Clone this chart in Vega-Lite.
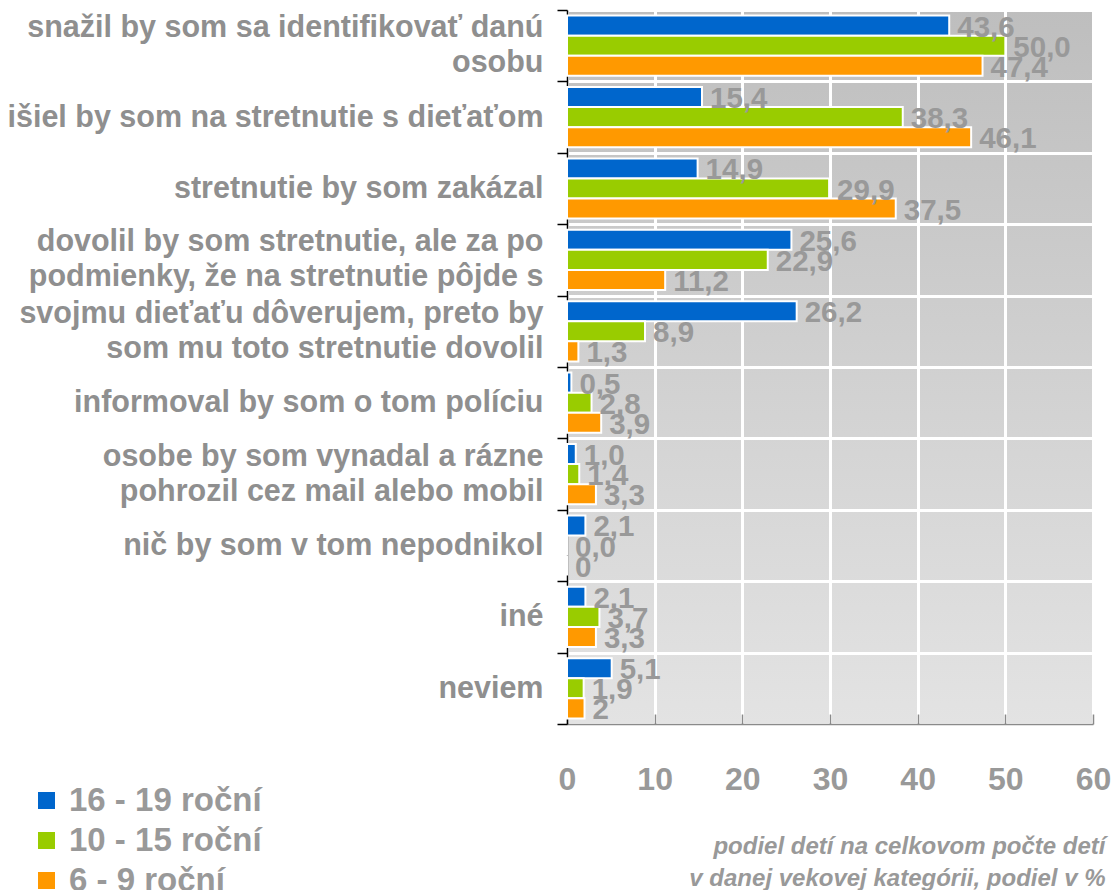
{
  "$schema": "https://vega.github.io/schema/vega-lite/v6.json",
  "autosize": "none",
  "width": 526,
  "height": 714,
  "padding": {"left": 567, "top": 10, "right": 22, "bottom": 166},
  "background": "white",
  "view": {
    "fill": {"gradient": "linear", "x1": 0, "y1": 0, "x2": 0, "y2": 1,
      "stops": [{"offset": 0, "color": "#bebebe"}, {"offset": 1, "color": "#e3e3e3"}]},
    "stroke": null
  },
  "config": {"font": "Liberation Sans"},
  "data": {"values": [
    {"cat": "snažil by som sa identifikovať danú|osobu", "grp": "16 - 19 roční", "value": 43.6, "label": "43,6"},
    {"cat": "snažil by som sa identifikovať danú|osobu", "grp": "10 - 15 roční", "value": 50.0, "label": "50,0"},
    {"cat": "snažil by som sa identifikovať danú|osobu", "grp": "6 - 9 roční", "value": 47.4, "label": "47,4"},
    {"cat": "išiel by som na stretnutie s dieťaťom", "grp": "16 - 19 roční", "value": 15.4, "label": "15,4"},
    {"cat": "išiel by som na stretnutie s dieťaťom", "grp": "10 - 15 roční", "value": 38.3, "label": "38,3"},
    {"cat": "išiel by som na stretnutie s dieťaťom", "grp": "6 - 9 roční", "value": 46.1, "label": "46,1"},
    {"cat": "stretnutie by som zakázal", "grp": "16 - 19 roční", "value": 14.9, "label": "14,9"},
    {"cat": "stretnutie by som zakázal", "grp": "10 - 15 roční", "value": 29.9, "label": "29,9"},
    {"cat": "stretnutie by som zakázal", "grp": "6 - 9 roční", "value": 37.5, "label": "37,5"},
    {"cat": "dovolil by som stretnutie, ale za po|podmienky, že na stretnutie pôjde s", "grp": "16 - 19 roční", "value": 25.6, "label": "25,6"},
    {"cat": "dovolil by som stretnutie, ale za po|podmienky, že na stretnutie pôjde s", "grp": "10 - 15 roční", "value": 22.9, "label": "22,9"},
    {"cat": "dovolil by som stretnutie, ale za po|podmienky, že na stretnutie pôjde s", "grp": "6 - 9 roční", "value": 11.2, "label": "11,2"},
    {"cat": "svojmu dieťaťu dôverujem, preto by|som mu toto stretnutie dovolil", "grp": "16 - 19 roční", "value": 26.2, "label": "26,2"},
    {"cat": "svojmu dieťaťu dôverujem, preto by|som mu toto stretnutie dovolil", "grp": "10 - 15 roční", "value": 8.9, "label": "8,9"},
    {"cat": "svojmu dieťaťu dôverujem, preto by|som mu toto stretnutie dovolil", "grp": "6 - 9 roční", "value": 1.3, "label": "1,3"},
    {"cat": "informoval by som o tom políciu", "grp": "16 - 19 roční", "value": 0.5, "label": "0,5"},
    {"cat": "informoval by som o tom políciu", "grp": "10 - 15 roční", "value": 2.8, "label": "2,8"},
    {"cat": "informoval by som o tom políciu", "grp": "6 - 9 roční", "value": 3.9, "label": "3,9"},
    {"cat": "osobe by som vynadal a rázne|pohrozil cez mail alebo mobil", "grp": "16 - 19 roční", "value": 1.0, "label": "1,0"},
    {"cat": "osobe by som vynadal a rázne|pohrozil cez mail alebo mobil", "grp": "10 - 15 roční", "value": 1.4, "label": "1,4"},
    {"cat": "osobe by som vynadal a rázne|pohrozil cez mail alebo mobil", "grp": "6 - 9 roční", "value": 3.3, "label": "3,3"},
    {"cat": "nič by som v tom nepodnikol", "grp": "16 - 19 roční", "value": 2.1, "label": "2,1"},
    {"cat": "nič by som v tom nepodnikol", "grp": "10 - 15 roční", "value": 0.0, "label": "0,0"},
    {"cat": "nič by som v tom nepodnikol", "grp": "6 - 9 roční", "value": 0, "label": "0"},
    {"cat": "iné", "grp": "16 - 19 roční", "value": 2.1, "label": "2,1"},
    {"cat": "iné", "grp": "10 - 15 roční", "value": 3.7, "label": "3,7"},
    {"cat": "iné", "grp": "6 - 9 roční", "value": 3.3, "label": "3,3"},
    {"cat": "neviem", "grp": "16 - 19 roční", "value": 5.1, "label": "5,1"},
    {"cat": "neviem", "grp": "10 - 15 roční", "value": 1.9, "label": "1,9"},
    {"cat": "neviem", "grp": "6 - 9 roční", "value": 2, "label": "2"}
  ]},
  "resolve": {"axis": {"y": "independent"}},
  "encoding": {
    "yOffset": {
      "field": "grp", "type": "nominal",
      "sort": ["16 - 19 roční", "10 - 15 roční", "6 - 9 roční"],
      "scale": {"paddingOuter": 0.28, "paddingInner": 0}
    },
    "x": {
      "field": "value", "type": "quantitative",
      "scale": {"domain": [0, 60], "nice": false},
      "axis": {
        "values": [0, 10, 20, 30, 40, 50, 60],
        "grid": true, "gridColor": "#ffffff", "gridWidth": 3,
        "domainColor": "#8a8a8a", "domainWidth": 1.5,
        "tickColor": "#8a8a8a", "tickSize": -10, "tickWidth": 1.5,
        "labelFontSize": 32, "labelFontWeight": "bold", "labelColor": "#999999",
        "labelBaseline": "alphabetic", "labelPadding": 75, "labelFlush": false,
        "title": ["podiel detí na celkovom počte detí", "v danej vekovej kategórii, podiel v %"],
        "titleFontSize": 24, "titleFontStyle": "italic", "titleFontWeight": "bold",
        "titleColor": "#999999", "titleAnchor": "end", "titleAlign": "right",
        "titleBaseline": "alphabetic", "titleLineHeight": 32,
        "titleX": 538, "titleY": 129
      }
    }
  },
  "layer": [
    {
      "mark": {"type": "bar", "stroke": "#ffffff", "strokeWidth": 2},
      "encoding": {
        "y": {
          "field": "cat", "type": "nominal", "sort": null,
          "scale": {"paddingInner": 0, "paddingOuter": 0},
          "axis": {
            "orient": "left", "title": null,
            "labelExpr": "indexof(datum.label, '|') >= 0 ? '' : datum.label",
            "labelFontSize": 30.5, "labelFontWeight": "bold", "labelColor": "#8f8f8f",
            "labelLimit": 700, "labelPadding": 14,
            "tickBand": "extent", "tickSize": 10, "tickColor": "#000000", "tickWidth": 1.5,
            "domainColor": "#000000", "domainWidth": 1.5,
            "grid": true, "gridColor": "#ffffff", "gridWidth": 3
          }
        },
        "color": {
          "field": "grp", "type": "nominal",
          "scale": {"domain": ["16 - 19 roční", "10 - 15 roční", "6 - 9 roční"], "range": ["#0066cc", "#99cc00", "#ff9900"]},
          "legend": {
            "orient": "none", "legendX": -537, "legendY": 774, "title": null,
            "symbolType": "square", "symbolSize": 289, "symbolStrokeWidth": 0,
            "labelFontSize": 33, "labelFontWeight": "bold", "labelColor": "#999999",
            "labelOffset": 6, "labelLimit": 400, "rowPadding": 6, "padding": 0
          }
        }
      }
    },
    {
      "mark": {"type": "text", "align": "left", "baseline": "middle", "dx": 8, "dy": 2,
        "fontSize": 29.5, "fontWeight": "bold", "color": "#999999"},
      "encoding": {
        "y": {
          "field": "cat", "type": "nominal", "sort": null,
          "axis": {
            "orient": "right", "title": null,
            "labelExpr": "indexof(datum.label, '|') >= 0 ? split(datum.label, '|') : ''",
            "labelFontSize": 30.5, "labelFontWeight": "bold", "labelColor": "#8f8f8f",
            "labelLineHeight": 35, "labelOffset": -17.5,
            "labelAlign": "right", "labelLimit": 700, "labelPadding": -550,
            "ticks": false, "tickSize": 0, "domain": false, "grid": false
          }
        },
        "text": {"field": "label"}
      }
    }
  ]
}
